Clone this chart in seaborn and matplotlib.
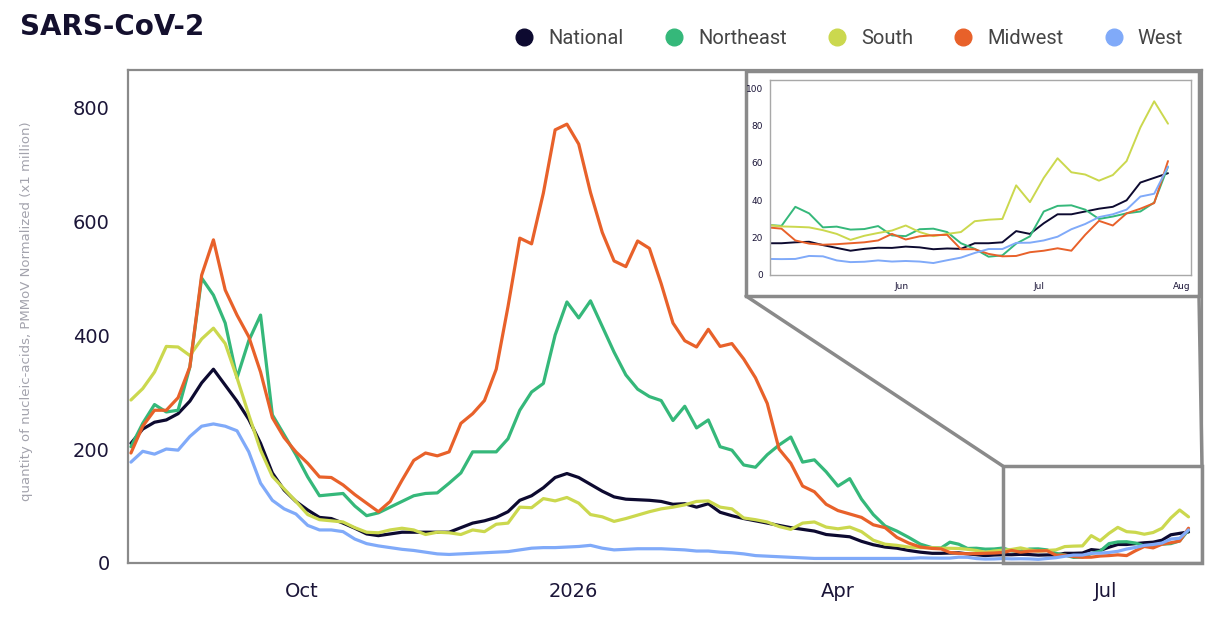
import numpy as np
import pandas as pd
import matplotlib
matplotlib.use("Agg")
import matplotlib.pyplot as plt
import matplotlib.dates as mdates
from matplotlib.patches import Rectangle, ConnectionPatch
from matplotlib.lines import Line2D
import seaborn as sns

# ---------------- data ----------------
dates_a = pd.date_range("2025-08-04", "2026-04-29", freq="4D")   # 68 points
dates_b = pd.date_range("2026-05-03", "2026-07-29", freq="3D")   # 30 points

regions = ["National", "Northeast", "South", "Midwest", "West"]
colors = ["#0d0a30", "#35b87a", "#cbd84e", "#e8612a", "#80aaf9"]

national_a = [210, 235, 247, 251, 262, 284, 316, 340, 312, 284, 252, 210, 158, 128, 108, 93, 80, 78, 70, 61,
              51, 48, 51, 54, 54, 54, 54, 54, 62, 70, 74, 80, 90, 110, 118, 132, 150, 157, 150, 138,
              126, 116, 112, 111, 110, 108, 103, 104, 98, 104, 89, 83, 78, 74, 70, 66, 62, 59, 56, 50,
              48, 46, 38, 32, 28, 26, 22, 19]
northeast_a = [204, 245, 278, 265, 268, 344, 500, 470, 421, 325, 390, 435, 260, 225, 190, 151, 118, 120, 122, 100,
               83, 88, 98, 108, 118, 122, 123, 140, 158, 195, 195, 195, 218, 268, 300, 315, 400, 458, 430, 460,
               415, 370, 330, 305, 292, 285, 250, 275, 237, 251, 204, 198, 172, 168, 190, 207, 221, 177, 181, 160,
               135, 148, 112, 85, 65, 56, 45, 33]
south_a = [286, 306, 335, 380, 379, 364, 393, 412, 385, 325, 260, 198, 152, 130, 108, 85, 76, 74, 72, 62,
           54, 53, 58, 61, 58, 50, 54, 53, 50, 58, 55, 68, 70, 98, 97, 113, 109, 115, 105, 85,
           81, 73, 78, 84, 90, 95, 98, 102, 108, 109, 98, 95, 79, 76, 72, 64, 59, 70, 72, 63,
           60, 63, 55, 40, 33, 31, 28, 27]
midwest_a = [193, 240, 268, 268, 290, 344, 505, 567, 479, 435, 397, 335, 255, 220, 195, 175, 151, 150, 137, 120,
             105, 90, 108, 145, 180, 193, 188, 195, 245, 262, 285, 340, 450, 570, 560, 649, 760, 770, 735, 650,
             580, 530, 520, 565, 552, 490, 421, 390, 379, 410, 380, 385, 358, 325, 280, 200, 175, 135, 125, 103,
             92, 86, 80, 67, 62, 45, 35, 28]
west_a = [177, 196, 191, 200, 198, 222, 240, 244, 240, 232, 195, 140, 110, 95, 86, 66, 58, 58, 55, 42,
          34, 30, 27, 24, 22, 19, 16, 15, 16, 17, 18, 19, 20, 23, 26, 27, 27, 28, 29, 31,
          26, 23, 24, 25, 25, 25, 24, 23, 21, 21, 19, 18, 16, 13, 12, 11, 10, 9, 8, 8,
          8, 8, 8, 8, 8, 8, 8, 9]

national_b = [17, 17, 17.5, 17.8, 16, 14.5, 13, 14, 14.6, 14.5, 15.2, 14.8, 13.8, 14.2, 14,
              17, 17, 17.5, 23.5, 22, 27.7, 32.5, 32.5, 34, 35.5, 36.5, 40, 49.5, 52, 54.5]
northeast_b = [26.8, 26.3, 36.5, 33, 25.5, 25.9, 24.3, 24.6, 26.2, 21.2, 20.8, 24.5, 24.8, 23, 17,
               14, 9.8, 10.5, 16.8, 20.7, 34, 37, 37.3, 35, 30, 31.3, 33, 34, 38.8, 58]
south_b = [26.8, 26, 25.8, 25.5, 24, 22, 18.8, 21, 22.5, 23.8, 26.5, 23, 20.8, 22, 23,
           28.8, 29.6, 30, 48, 39, 52, 62.5, 55, 53.8, 50.5, 53.5, 61, 79, 93, 81]
midwest_b = [25.5, 24.8, 18.5, 16.8, 16.2, 16.5, 17, 17.5, 18.5, 22, 19, 20.7, 21.3, 21.5, 13.8,
             13.8, 11.3, 10, 10.2, 12.2, 13, 14.3, 13, 21.5, 29, 26.5, 33, 35.5, 38.5, 61]
west_b = [8.6, 8.5, 8.6, 10.2, 10, 7.8, 6.9, 7.1, 7.8, 7.2, 7.5, 7.2, 6.4, 7.9, 9.3,
          11.8, 13.9, 13.9, 17.2, 17.3, 18.5, 20.5, 24.5, 27.3, 31, 32.5, 35, 42, 43.5, 58]

main_xticks = ["2025-10-01", "2026-01-01", "2026-04-01", "2026-07-01"]
main_xticklabels = ["Oct", "2026", "Apr", "Jul"]
main_yticks = [0, 200, 400, 600, 800]
inset_xticks = ["2026-06-01", "2026-07-01", "2026-08-01"]
inset_xticklabels = ["Jun", "Jul", "Aug"]
inset_yticks = [0, 20, 40, 60, 80, 100]

title = "SARS-CoV-2"
ylabel = "quantity of nucleic-acids, PMMoV Normalized (x1 million)"

series = {
    "National": national_a + national_b,
    "Northeast": northeast_a + northeast_b,
    "South": south_a + south_b,
    "Midwest": midwest_a + midwest_b,
    "West": west_a + west_b,
}
all_dates = dates_a.append(dates_b)
df = pd.concat(
    [pd.DataFrame({"date": all_dates, "value": series[r], "region": r}) for r in regions],
    ignore_index=True,
)

# ---------------- figure ----------------
sns.set_style("white")
plt.rcParams["font.family"] = ["DejaVu Sans"]

W, H = 1224, 622
fig = plt.figure(figsize=(W / 100, H / 100), dpi=100)
GRAY = "#8a8a8a"
NAVY = "#1b1538"

ax = fig.add_axes([128 / W, 1 - 563 / H, 1074 / W, 493 / H])
sns.lineplot(data=df, x="date", y="value", hue="region", hue_order=regions,
             palette=colors, linewidth=2.3, legend=False, ax=ax, estimator=None, sort=False)

x0 = pd.Timestamp("2025-08-03")
x1 = pd.Timestamp("2026-08-02 14:00")
ax.set_xlim(x0, x1)
ax.set_ylim(0, 865)
ax.set_yticks(main_yticks)
ax.set_xticks([pd.Timestamp(d) for d in main_xticks])
ax.set_xticklabels(main_xticklabels)
ax.set_xlabel("")
ax.set_ylabel(ylabel, color="#a3a3ad", fontsize=9.5)
ax.yaxis.set_label_coords(-0.0885, 0.51)
for s in ax.spines.values():
    s.set_color(GRAY)
    s.set_linewidth(1.6)
ax.tick_params(axis="both", which="major", direction="out", length=7, width=1.5,
               color=GRAY, labelcolor=NAVY, labelsize=14)
ax.tick_params(axis="x", pad=7)
ax.tick_params(axis="y", pad=6)
ax.grid(False)

# zoom indicator rectangle in main axes
rx0 = mdates.date2num(pd.Timestamp("2026-05-27"))
rx1 = mdates.date2num(x1)
ax.add_patch(Rectangle((rx0, 0), rx1 - rx0, 170, fill=False, edgecolor=GRAY,
                       linewidth=2.5, clip_on=False, zorder=6))

# inset frame
fig.add_artist(Rectangle((746 / W, 1 - 296 / H), 453 / W, 225 / H, transform=fig.transFigure,
                         facecolor="white", edgecolor=GRAY, linewidth=2.5, zorder=3))
for xa, xb in [(746 / W, rx0), (1199 / W, rx1)]:
    con = ConnectionPatch(xyA=(xa, 1 - 296 / H), coordsA=fig.transFigure,
                          xyB=(xb, 170), coordsB=ax.transData,
                          color=GRAY, linewidth=2.5, zorder=3)
    fig.add_artist(con)

# inset axes
axin = fig.add_axes([770 / W, 1 - 275 / H, 421 / W, 195 / H], zorder=4)
axin.set_facecolor("white")
sns.lineplot(data=df, x="date", y="value", hue="region", hue_order=regions,
             palette=colors, linewidth=1.4, legend=False, ax=axin, estimator=None, sort=False)
axin.set_xlim(pd.Timestamp("2026-05-03 12:00"), pd.Timestamp("2026-08-03"))
axin.set_ylim(0, 104.4)
axin.set_yticks(inset_yticks)
axin.set_xticks([pd.Timestamp(d) for d in inset_xticks])
axin.set_xticklabels(inset_xticklabels)
axin.set_xlabel("")
axin.set_ylabel("")
for s in axin.spines.values():
    s.set_color("#a8a8a8")
    s.set_linewidth(1.0)
axin.tick_params(axis="both", direction="out", length=3, width=0.8, color="#a8a8a8",
                 labelcolor=NAVY, labelsize=6.5, pad=2)
axin.grid(False)

# title
fig.text(20 / W, 1 - 27 / H, title, fontsize=20, fontweight="bold", color="#14102e",
         ha="left", va="center")

# legend
handles = [Line2D([], [], marker="o", linestyle="", markersize=12,
                  markerfacecolor=c, markeredgecolor=c) for c in colors]
fig.legend(handles, regions, loc="center right", bbox_to_anchor=(1183 / W, 1 - 39 / H),
           ncol=5, frameon=False, handlelength=1.0, handletextpad=0.69, columnspacing=2.0,
           borderpad=0, borderaxespad=0, labelcolor="#454545",
           prop={"family": ["Roboto", "DejaVu Sans"], "size": 14.5})

fig.savefig("out.png", dpi=100)
